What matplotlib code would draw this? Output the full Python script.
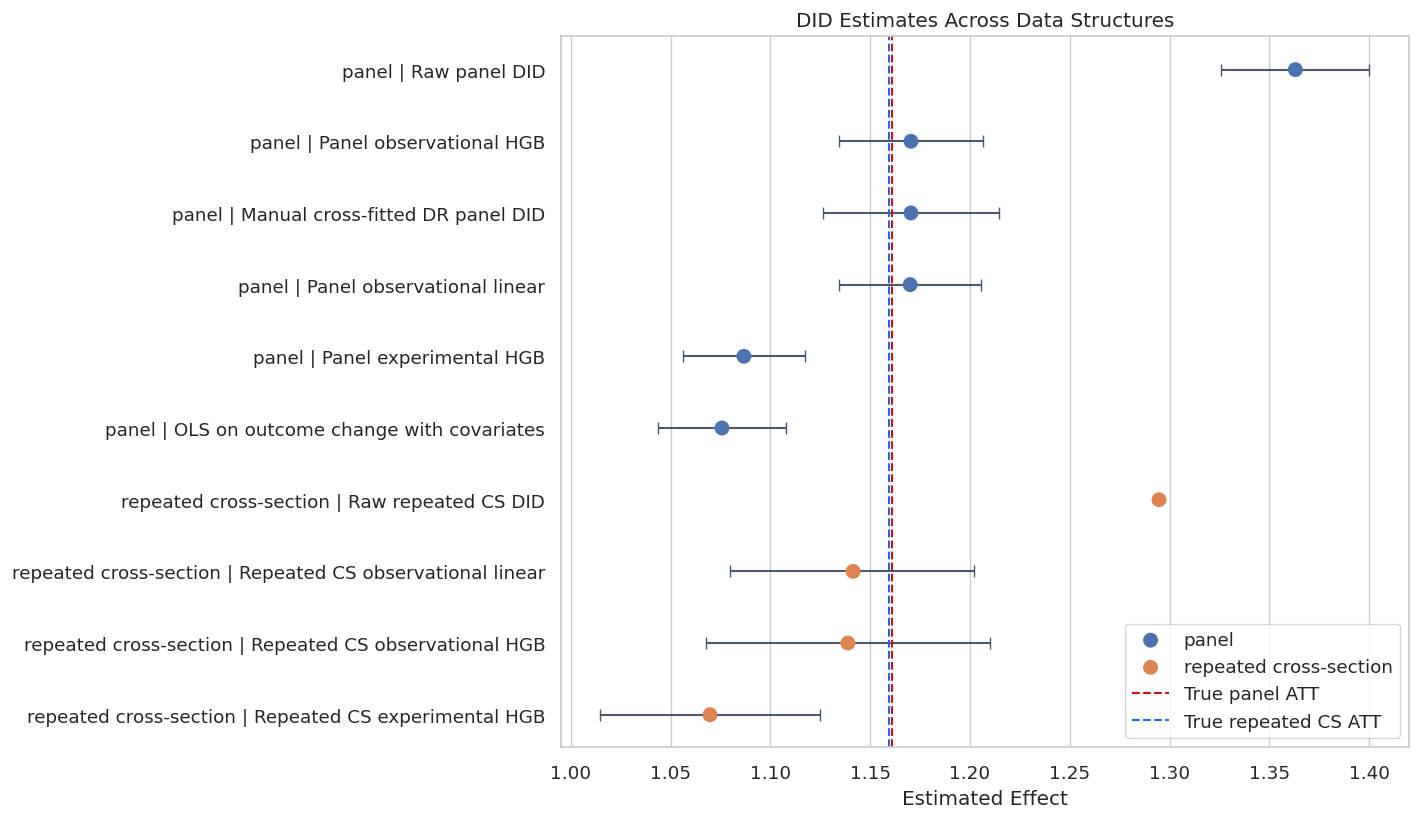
import matplotlib
matplotlib.use("Agg")
import matplotlib.pyplot as plt
import seaborn as sns
import numpy as np

sns.set_theme(style="whitegrid")

# data
labels = [
    "panel | Raw panel DID",
    "panel | Panel observational HGB",
    "panel | Manual cross-fitted DR panel DID",
    "panel | Panel observational linear",
    "panel | Panel experimental HGB",
    "panel | OLS on outcome change with covariates",
    "repeated cross-section | Raw repeated CS DID",
    "repeated cross-section | Repeated CS observational linear",
    "repeated cross-section | Repeated CS observational HGB",
    "repeated cross-section | Repeated CS experimental HGB",
]
structure = ["panel"] * 6 + ["repeated cross-section"] * 4
estimate = [1.363, 1.1704, 1.1704, 1.170, 1.0867, 1.0757, 1.2947, 1.1414, 1.1388, 1.0697]
ci_low = [1.3258, 1.1343, 1.1263, 1.1343, 1.0561, 1.0436, np.nan, 1.0797, 1.0677, 1.0145]
ci_high = [1.400, 1.2064, 1.2145, 1.2055, 1.1173, 1.1078, np.nan, 1.2020, 1.2100, 1.1248]
true_panel_att = 1.161
true_rcs_att = 1.1596

est = np.array(estimate)
lo = np.array(ci_low)
hi = np.array(ci_high)
ypos = np.arange(len(labels))

fig, ax = plt.subplots(figsize=(14.2, 8.2), dpi=100)

has_ci = ~np.isnan(lo)
ax.errorbar(est[has_ci], ypos[has_ci],
            xerr=[est[has_ci] - lo[has_ci], hi[has_ci] - est[has_ci]],
            fmt="none", ecolor="#4c586c", elinewidth=1.5, capsize=4, zorder=2)

palette = {"panel": "#4c72b0", "repeated cross-section": "#dd8452"}
for grp in ["panel", "repeated cross-section"]:
    m = np.array([s == grp for s in structure])
    ax.scatter(est[m], ypos[m], s=115, color=palette[grp], label=grp, zorder=3, edgecolors="none")

ax.axvline(true_panel_att, color="#cc1111", linestyle="--", linewidth=1.5, label="True panel ATT")
ax.axvline(true_rcs_att, color="#2266ee", linestyle="--", linewidth=1.5, label="True repeated CS ATT")

ax.set_yticks(ypos)
ax.set_yticklabels(labels, fontsize=13.2)
ax.set_ylim(len(labels) - 0.55, -0.47)
ax.set_xlim(0.995, 1.420)
ax.set_xticks(np.arange(1.0, 1.401, 0.05))
ax.tick_params(axis="x", labelsize=13.2, pad=6.5)
ax.tick_params(axis="y", pad=5.3)
ax.grid(axis="y", visible=False)
ax.set_xlabel("Estimated Effect", fontsize=14.4, labelpad=5)
ax.set_title("DID Estimates Across Data Structures", fontsize=14.4, pad=7)
ax.legend(loc="lower right", fontsize=13.2)

fig.subplots_adjust(left=0.395, right=0.9923, top=0.955, bottom=0.0878)
plt.savefig("out.png", dpi=100)
